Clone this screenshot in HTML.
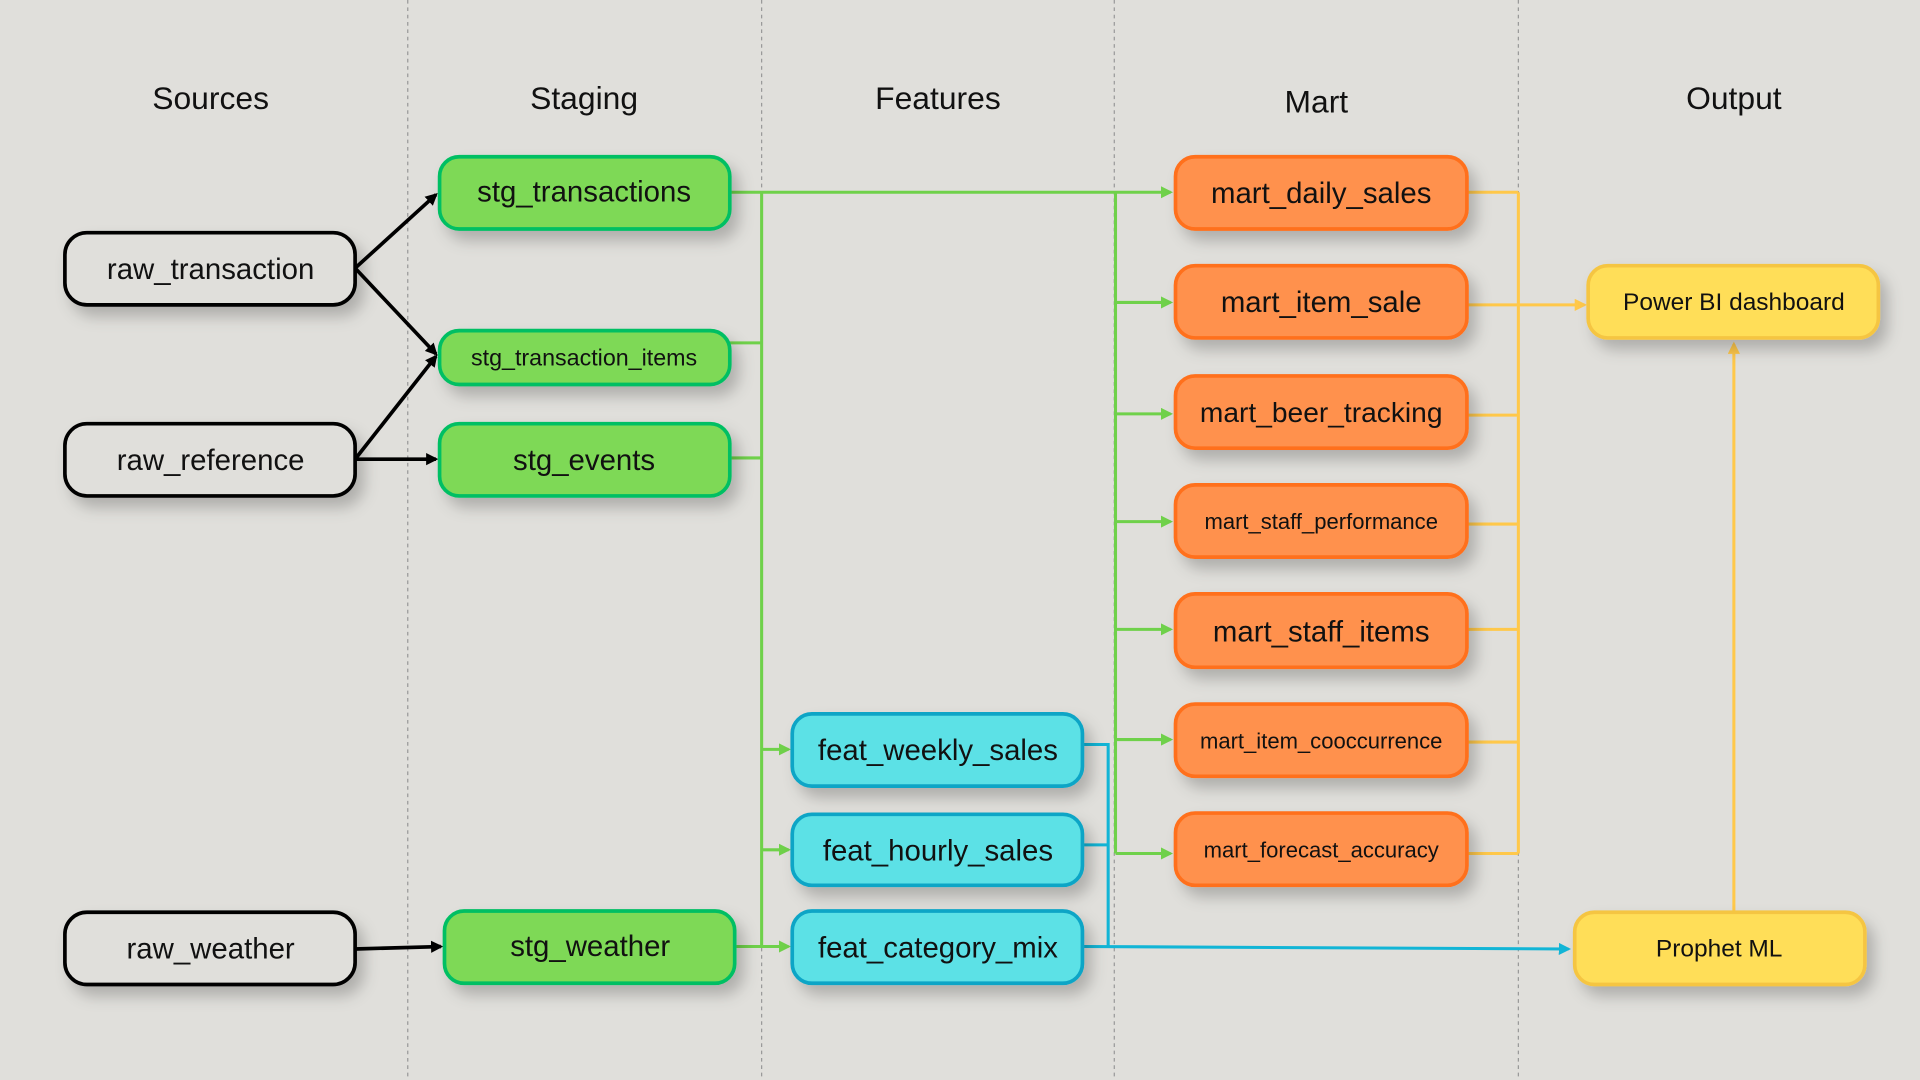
<!DOCTYPE html>
<html><head><meta charset="utf-8"><style>
html,body{margin:0;padding:0;background:#e0dfdb;}
svg{display:block;}
text{font-family:"Liberation Sans",sans-serif;fill:#111;text-anchor:middle;dominant-baseline:central;}
</style></head><body>
<svg width="1920" height="1080" viewBox="0 0 1568 882" xmlns="http://www.w3.org/2000/svg">
<defs>
<filter id="sh" x="-20%" y="-30%" width="150%" height="190%"><feDropShadow dx="6" dy="8" stdDeviation="6" flood-color="#000" flood-opacity="0.22"/></filter>
<marker id="ak" markerWidth="10" markerHeight="10" refX="8" refY="5" orient="auto" markerUnits="userSpaceOnUse"><path d="M0,0 L10,5 L0,10z" fill="#000"/></marker>
<marker id="ag" markerWidth="10" markerHeight="10" refX="8" refY="5" orient="auto" markerUnits="userSpaceOnUse"><path d="M0,0 L10,5 L0,10z" fill="#6fd14a"/></marker>
<marker id="ac" markerWidth="10" markerHeight="10" refX="8" refY="5" orient="auto" markerUnits="userSpaceOnUse"><path d="M0,0 L10,5 L0,10z" fill="#12b5d6"/></marker>
<marker id="ay" markerWidth="10" markerHeight="10" refX="8" refY="5" orient="auto" markerUnits="userSpaceOnUse"><path d="M0,0 L10,5 L0,10z" fill="#ffc84a"/></marker>
</defs>
<rect width="1568" height="882" fill="#e0dfdb"/>
<g stroke="#999" stroke-width="1" stroke-dasharray="3,3">
<line x1="333" y1="0" x2="333" y2="882"/><line x1="622" y1="0" x2="622" y2="882"/><line x1="910" y1="0" x2="910" y2="882"/><line x1="1240" y1="0" x2="1240" y2="882"/></g>
<g font-size="26"><text x="172" y="80">Sources</text><text x="477" y="80">Staging</text><text x="766" y="80">Features</text><text x="1075" y="83">Mart</text><text x="1416" y="80">Output</text></g>
<!-- green -->
<g stroke="#6fd14a" stroke-width="2.5" fill="none">
<line x1="596" y1="157" x2="622" y2="157"/>
<line x1="622" y1="157" x2="956" y2="157" marker-end="url(#ag)"/>
<line x1="622" y1="157" x2="622" y2="773"/>
<line x1="596" y1="280" x2="622" y2="280"/>
<line x1="596" y1="374" x2="622" y2="374"/>
<line x1="600" y1="773" x2="644" y2="773" marker-end="url(#ag)"/>
<line x1="622" y1="612" x2="644" y2="612" marker-end="url(#ag)"/>
<line x1="622" y1="694" x2="644" y2="694" marker-end="url(#ag)"/>
<line x1="911" y1="157" x2="911" y2="697"/>
<line x1="911" y1="247" x2="956" y2="247" marker-end="url(#ag)"/>
<line x1="911" y1="338" x2="956" y2="338" marker-end="url(#ag)"/>
<line x1="911" y1="426" x2="956" y2="426" marker-end="url(#ag)"/>
<line x1="911" y1="514" x2="956" y2="514" marker-end="url(#ag)"/>
<line x1="911" y1="604" x2="956" y2="604" marker-end="url(#ag)"/>
<line x1="911" y1="697" x2="956" y2="697" marker-end="url(#ag)"/>
</g>
<!-- cyan -->
<g stroke="#12b5d6" stroke-width="2.5" fill="none">
<polyline points="884,608 905,608 905,773"/>
<line x1="884" y1="690" x2="905" y2="690"/>
<line x1="884" y1="773" x2="1281" y2="775" marker-end="url(#ac)"/>
</g>
<!-- yellow -->
<g stroke="#ffc84a" stroke-width="2.5" fill="none">
<line x1="1240" y1="157" x2="1240" y2="697"/>
<line x1="1198" y1="157" x2="1240" y2="157"/><line x1="1198" y1="339" x2="1240" y2="339"/>
<line x1="1198" y1="428" x2="1240" y2="428"/><line x1="1198" y1="514" x2="1240" y2="514"/>
<line x1="1198" y1="606" x2="1240" y2="606"/><line x1="1198" y1="697" x2="1240" y2="697"/>
<line x1="1198" y1="249" x2="1294" y2="249" marker-end="url(#ay)"/>
<line x1="1416" y1="745" x2="1416" y2="281" marker-end="url(#ay)"/>
</g>
<!-- black -->
<g stroke="#000" stroke-width="3" fill="none">
<line x1="290" y1="219" x2="356" y2="159" marker-end="url(#ak)"/>
<line x1="290" y1="219" x2="356" y2="289" marker-end="url(#ak)"/>
<line x1="290" y1="375" x2="356" y2="291" marker-end="url(#ak)"/>
<line x1="290" y1="375" x2="356" y2="375" marker-end="url(#ak)"/>
<line x1="290" y1="775" x2="360" y2="773" marker-end="url(#ak)"/>
</g>
<!-- nodes -->
<g filter="url(#sh)">
<g fill="#e0dfdb" stroke="#000" stroke-width="3">
<rect x="53" y="190" width="237" height="59" rx="18"/><rect x="53" y="346" width="237" height="59" rx="18"/><rect x="53" y="745" width="237" height="59" rx="18"/></g>
<g fill="#7ed957" stroke="#00bf63" stroke-width="3">
<rect x="359" y="128" width="237" height="59" rx="16"/><rect x="359" y="270" width="237" height="44" rx="16"/><rect x="359" y="346" width="237" height="59" rx="16"/><rect x="363" y="744" width="237" height="59" rx="16"/></g>
<g fill="#5ce1e6" stroke="#0ea5c6" stroke-width="3">
<rect x="647" y="583" width="237" height="59" rx="16"/><rect x="647" y="665" width="237" height="58" rx="16"/><rect x="647" y="744" width="237" height="59" rx="16"/></g>
<g fill="#ff914d" stroke="#ff6f1a" stroke-width="3">
<rect x="960" y="128" width="238" height="59" rx="16"/><rect x="960" y="217" width="238" height="59" rx="16"/><rect x="960" y="307" width="238" height="59" rx="16"/><rect x="960" y="396" width="238" height="59" rx="16"/><rect x="960" y="485" width="238" height="60" rx="16"/><rect x="960" y="575" width="238" height="59" rx="16"/><rect x="960" y="664" width="238" height="59" rx="16"/></g>
<g fill="#ffde59" stroke="#f5c542" stroke-width="3">
<rect x="1297" y="217" width="237" height="59" rx="16"/><rect x="1286" y="745" width="237" height="59" rx="16"/></g>
</g>
<g font-size="24">
<text x="172" y="220">raw_transaction</text><text x="172" y="376">raw_reference</text><text x="172" y="775">raw_weather</text>
<text x="477" y="157">stg_transactions</text><text x="477" y="292" font-size="19">stg_transaction_items</text><text x="477" y="376">stg_events</text><text x="482" y="773">stg_weather</text>
<text x="766" y="613">feat_weekly_sales</text><text x="766" y="695">feat_hourly_sales</text><text x="766" y="774">feat_category_mix</text>
<text x="1079" y="158">mart_daily_sales</text><text x="1079" y="247">mart_item_sale</text><text x="1079" y="337" font-size="23">mart_beer_tracking</text>
<text x="1079" y="426" font-size="18">mart_staff_performance</text><text x="1079" y="516">mart_staff_items</text>
<text x="1079" y="605" font-size="18">mart_item_cooccurrence</text><text x="1079" y="694" font-size="18">mart_forecast_accuracy</text>
<text x="1416" y="247" font-size="20">Power BI dashboard</text><text x="1404" y="775" font-size="20">Prophet ML</text>
</g>
</svg>
</body></html>
